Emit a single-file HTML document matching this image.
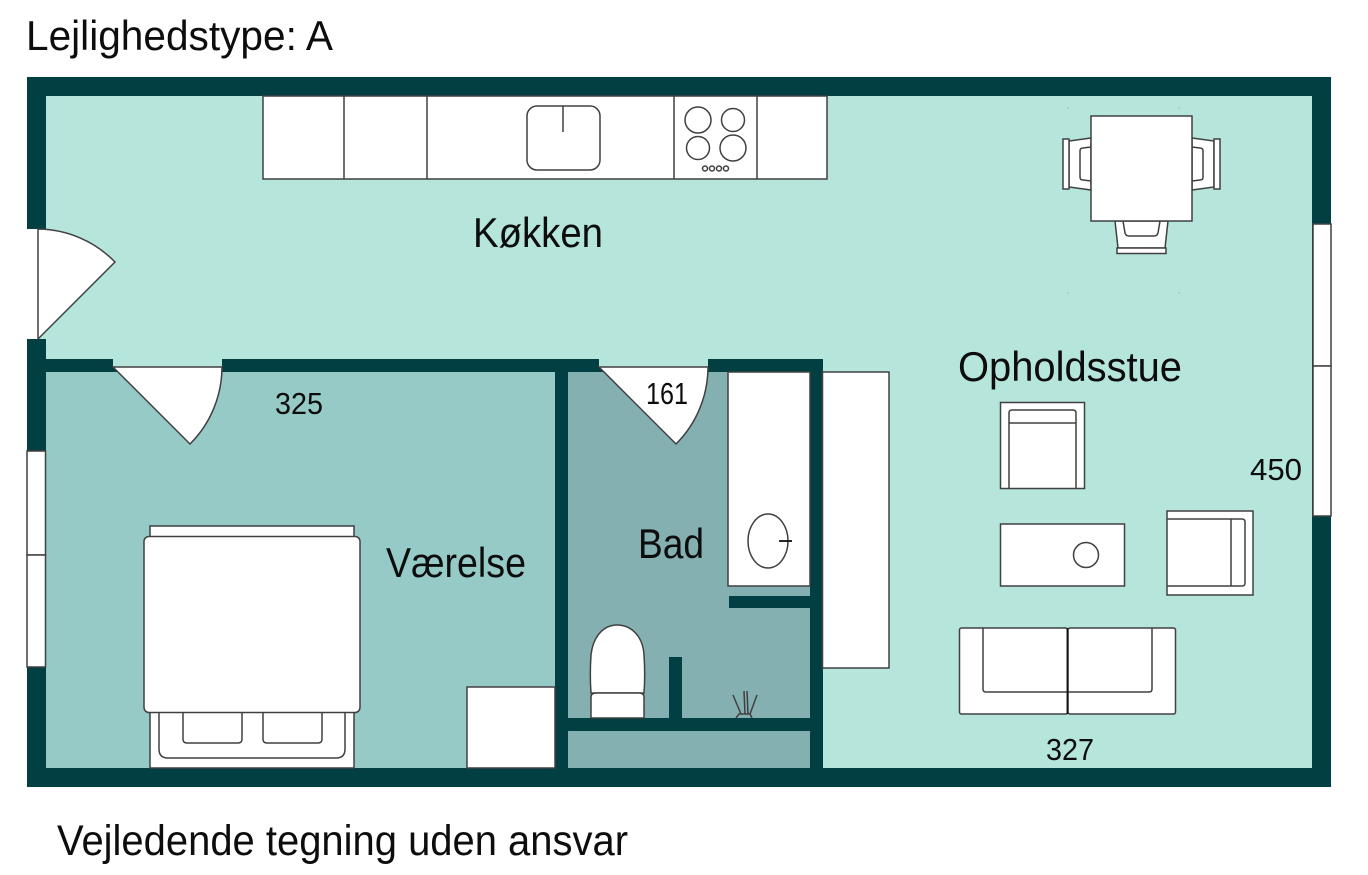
<!DOCTYPE html>
<html><head><meta charset="utf-8"><style>
html,body{margin:0;padding:0;background:#fff}
svg{display:block}
text{font-family:"Liberation Sans",sans-serif;fill:#0d0d0d}
.l{fill:#fff;stroke:#404040;stroke-width:1.500}
.n{fill:none;stroke:#404040;stroke-width:1.500}
</style></head><body>
<svg width="1368" height="875" viewBox="0 0 1368 875" xmlns="http://www.w3.org/2000/svg">
<rect width="1368" height="875" fill="#fff"/>
<rect x="27" y="77" width="1304" height="710" fill="#023f43"/>
<rect x="46" y="96" width="1266" height="672" fill="#b6e5dc"/>
<rect x="46" y="359" width="777" height="13" fill="#023f43"/>
<rect x="46" y="372" width="509" height="396" fill="#96cac6"/>
<rect x="568" y="372" width="242" height="396" fill="#84b0b1"/>
<rect x="555" y="359" width="13" height="409" fill="#023f43"/>
<rect x="810" y="359" width="13" height="409" fill="#023f43"/>
<rect x="568" y="718" width="242" height="13" fill="#023f43"/>
<rect x="729" y="596" width="81" height="12" fill="#023f43"/>
<rect x="669" y="657" width="13" height="61" fill="#023f43"/>
<!-- entrance door -->
<rect x="27" y="229" width="19" height="110" fill="#fff"/>
<rect x="38" y="229" width="8" height="110" fill="#b6e5dc"/>
<path class="l" d="M38 339V229A109 109 0 0 1 115 262Z"/>
<!-- inner doors -->
<rect x="113" y="359" width="109" height="8" fill="#b6e5dc"/>
<rect x="599" y="359" width="109" height="8" fill="#b6e5dc"/>
<path class="l" d="M113 367H222A109 109 0 0 1 190 444Z"/>
<path class="l" d="M599 367H708A109 109 0 0 1 676 444Z"/>
<!-- windows -->
<rect class="l" x="27" y="451" width="18.500" height="104"/>
<rect class="l" x="27" y="555" width="18.500" height="112"/>
<rect class="l" x="1313" y="224" width="18" height="142"/>
<rect class="l" x="1313" y="366" width="18" height="150"/>
<!-- kitchen -->
<rect class="l" x="263" y="96" width="564" height="83"/>
<path class="n" d="M344 96V179M427 96V179M674 96V179M757 96V179"/>
<rect class="n" x="527" y="106" width="73" height="64" rx="10"/>
<path class="n" d="M563 106V132"/>
<circle class="n" cx="698" cy="120" r="13"/>
<circle class="n" cx="733" cy="120" r="11.500"/>
<circle class="n" cx="698" cy="148" r="11.500"/>
<circle class="n" cx="733" cy="148" r="13"/>
<circle class="n" cx="705" cy="168.500" r="2.500"/>
<circle class="n" cx="712" cy="168.500" r="2.500"/>
<circle class="n" cx="719" cy="168.500" r="2.500"/>
<circle class="n" cx="726" cy="168.500" r="2.500"/>
<!-- dining -->
<path class="l" d="M1091 138L1069 141V187L1091 190Z"/>
<rect class="l" x="1063" y="139" width="6" height="50"/>
<path class="n" d="M1091 147L1083 148Q1080 148 1080 151V177Q1080 180 1083 180L1091 181"/>
<path class="l" d="M1192 138L1214 141V187L1192 190Z"/>
<rect class="l" x="1214" y="139" width="6" height="50"/>
<path class="n" d="M1192 147L1200 148Q1203 148 1203 151V177Q1203 180 1200 180L1192 181"/>
<path class="l" d="M1115 221L1118 248H1165L1168 221Z"/>
<rect class="l" x="1117" y="248" width="49" height="5.500"/>
<path class="n" d="M1123 221L1125 233Q1126 236 1129 236H1154Q1157 236 1158 233L1160 221"/>
<rect class="l" x="1091" y="116" width="101" height="105"/>
<!-- bad -->
<rect class="l" x="728" y="372" width="82" height="214"/>
<ellipse class="n" cx="768" cy="541" rx="20" ry="27"/>
<path d="M779 541H792" stroke="#111" stroke-width="1.800"/>
<rect class="l" x="822.500" y="372" width="66.500" height="296"/>
<path class="l" d="M591 693C590 680 590 670 591 655C593 636 604 625 617 625C631 625 643 636 644 655C645 670 645 680 644 693Z"/>
<path class="l" d="M591 718V697Q591 693 596 693H639Q644 693 644 697V718Z"/>
<path class="n" d="M733 695L741 714M744 691L745 714M747 691L748 714M757 695L750 714M736 718L739 714H750L752 718"/>
<!-- bed -->
<rect class="l" x="150" y="526" width="204" height="242"/>
<path class="n" d="M159 712V749Q159 758 168 758H336Q345 758 345 749V712"/>
<path class="n" d="M183 712V739Q183 743 187 743H238Q242 743 242 739V712"/>
<path class="n" d="M263 712V739Q263 743 267 743H318Q322 743 322 739V712"/>
<rect class="l" x="144" y="536.500" width="216" height="176" rx="5"/>
<rect class="l" x="467" y="687" width="88" height="81"/>
<!-- living -->
<rect class="l" x="1000.500" y="402.500" width="84" height="86"/>
<path class="n" d="M1009 488V413Q1009 410 1012 410H1073Q1076 410 1076 413V488M1009 423H1076"/>
<rect class="l" x="1000.500" y="524" width="124" height="62"/>
<circle class="n" cx="1086" cy="555" r="12.500"/>
<rect class="l" x="1167" y="511" width="86" height="84"/>
<path class="n" d="M1167 519H1242Q1245 519 1245 522V583Q1245 586 1242 586H1167M1231 519V586"/>
<rect class="l" x="959.500" y="628" width="108" height="86" rx="2"/>
<rect class="l" x="1068" y="628" width="107.500" height="86" rx="2"/>
<path class="n" d="M983 628V689Q983 692 986 692H1149Q1152 692 1152 689V628"/>
<path d="M1067.500 628V714" stroke="#111" stroke-width="1.800"/>
<!-- faint marks -->
<g fill="#9fcfc6"><rect x="1067" y="107" width="2" height="1.500"/><rect x="1178" y="107" width="2" height="1.500"/><rect x="1067" y="292" width="2" height="1.500"/><rect x="1178" y="292" width="2" height="1.500"/></g>
<!-- text -->
<text x="26" y="50" font-size="42" textLength="307" lengthAdjust="spacingAndGlyphs">Lejlighedstype: A</text>
<text x="473" y="247" font-size="42" textLength="130" lengthAdjust="spacingAndGlyphs">Køkken</text>
<text x="958" y="381" font-size="42" textLength="224" lengthAdjust="spacingAndGlyphs">Opholdsstue</text>
<text x="386" y="577" font-size="42" textLength="140" lengthAdjust="spacingAndGlyphs">Værelse</text>
<text x="638" y="558" font-size="42" textLength="66" lengthAdjust="spacingAndGlyphs">Bad</text>
<text x="275" y="414" font-size="31" textLength="48" lengthAdjust="spacingAndGlyphs">325</text>
<text x="646" y="404" font-size="31" textLength="42" lengthAdjust="spacingAndGlyphs">161</text>
<text x="1250" y="480" font-size="31" textLength="52" lengthAdjust="spacingAndGlyphs">450</text>
<text x="1046" y="760" font-size="31" textLength="48" lengthAdjust="spacingAndGlyphs">327</text>
<text x="57" y="855" font-size="43" textLength="571" lengthAdjust="spacingAndGlyphs">Vejledende tegning uden ansvar</text>
</svg>
</body></html>
